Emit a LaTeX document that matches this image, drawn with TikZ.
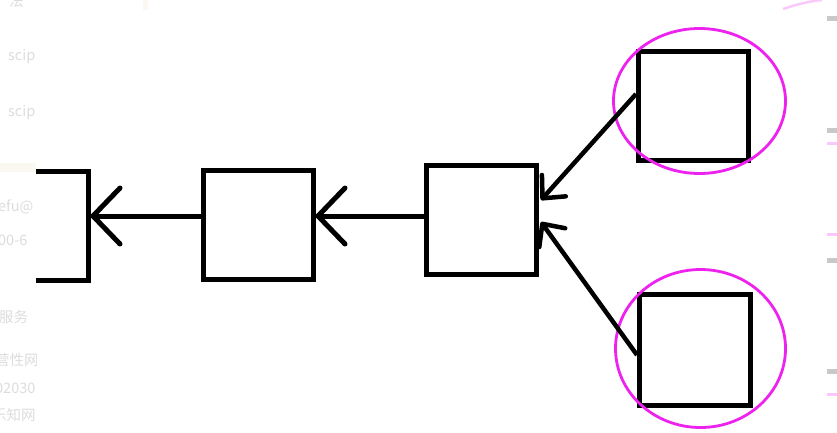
\documentclass[tikz,border=0pt]{standalone}
\usepackage{fontspec}
\newfontfamily\cjk{Noto Sans CJK SC}
\usetikzlibrary{shapes.geometric,arrows.meta}
\definecolor{mag}{RGB}{238,34,238}
\definecolor{faint}{RGB}{220,220,220}
\definecolor{pinkfaint}{RGB}{250,200,250}
\definecolor{dashgray}{RGB}{200,200,200}
\definecolor{beige}{RGB}{251,247,241}
\begin{document}
\begin{tikzpicture}[x=1pt,y=-1pt,
  box/.style={draw,line width=5pt,minimum width=110pt,minimum height=109pt,inner sep=0pt},
  ring/.style={draw=mag,line width=2.8pt,ellipse,inner sep=0pt},
  big/.style={line width=5pt,-{Straight Barb[length=27pt,width=56pt,round]}},
  small/.style={line width=4.5pt,-{Straight Barb[length=17pt,width=32pt,round]}},
  bgtext/.style={text=faint,font=\cjk\fontsize{14.5pt}{14.5pt}\selectfont,anchor=west,inner sep=0pt}]
\useasboundingbox (0,0) rectangle (837,432);
% faint screenshot residue on the left
\fill[beige] (0,163) rectangle (36,172);
\fill[beige] (143,0) rectangle (148,10);
\begin{scope}
\clip (0,0) rectangle (36,432);
\node[bgtext] (t0) at (9,1) {法};
\node[bgtext] (t1) at (8,57) {scip};
\node[bgtext] (t2) at (8,113) {scip};
\node[bgtext] (t3) at (-2,207) {efu@};
\node[bgtext] (t4) at (-2,240) {00-6};
\node[bgtext] (t5) at (-1,317) {服务};
\node[bgtext] (t6) at (-5,360) {营性网};
\node[bgtext] (t7) at (-5,388) {02030};
\node[bgtext] (t8) at (-8,415) {乐知网};
\end{scope}
% faint marks on the right edge
\foreach \yy in {18,130,260,371} \fill[dashgray] (827,\yy-2.5) rectangle (837,\yy+2.5);
\foreach \yy in {143,234,394} \fill[pinkfaint] (827,\yy-1.5) rectangle (837,\yy+1.5);
\draw[pinkfaint,line width=2.5pt] (783,9) .. controls (798,4) and (810,1) .. (822,0);
% boxes
\begin{scope}
\clip (36,0) rectangle (837,432);
\node[box] (b1) at (33,225.5) {};
\end{scope}
\node[box] (b2) at (258,224.5) {};
\node[box] (b3) at (481.5,220) {};
\node[box] (b4) at (693.5,106) {};
\node[box,minimum width=111pt,minimum height=111pt] (b5) at (695,350) {};
% rings
\node[ring,minimum width=172pt,minimum height=145pt] (e1) at (699.5,101) {};
\node[ring,minimum width=170pt,minimum height=158pt] (e2) at (700.5,348.5) {};
% arrows
\draw[big] ([yshift=8.5pt]b2.west) -- ([yshift=9.5pt]b1.east);
\draw[big] ([yshift=4pt]b3.west) -- ([yshift=8.5pt]b2.east);
\draw[small] ([yshift=12pt]b4.west) -- ([yshift=20pt,xshift=2pt]b3.east);
\draw[small] ([yshift=-5pt]b5.west) -- ([yshift=-2pt,xshift=2pt]b3.east);
\end{tikzpicture}
\end{document}
